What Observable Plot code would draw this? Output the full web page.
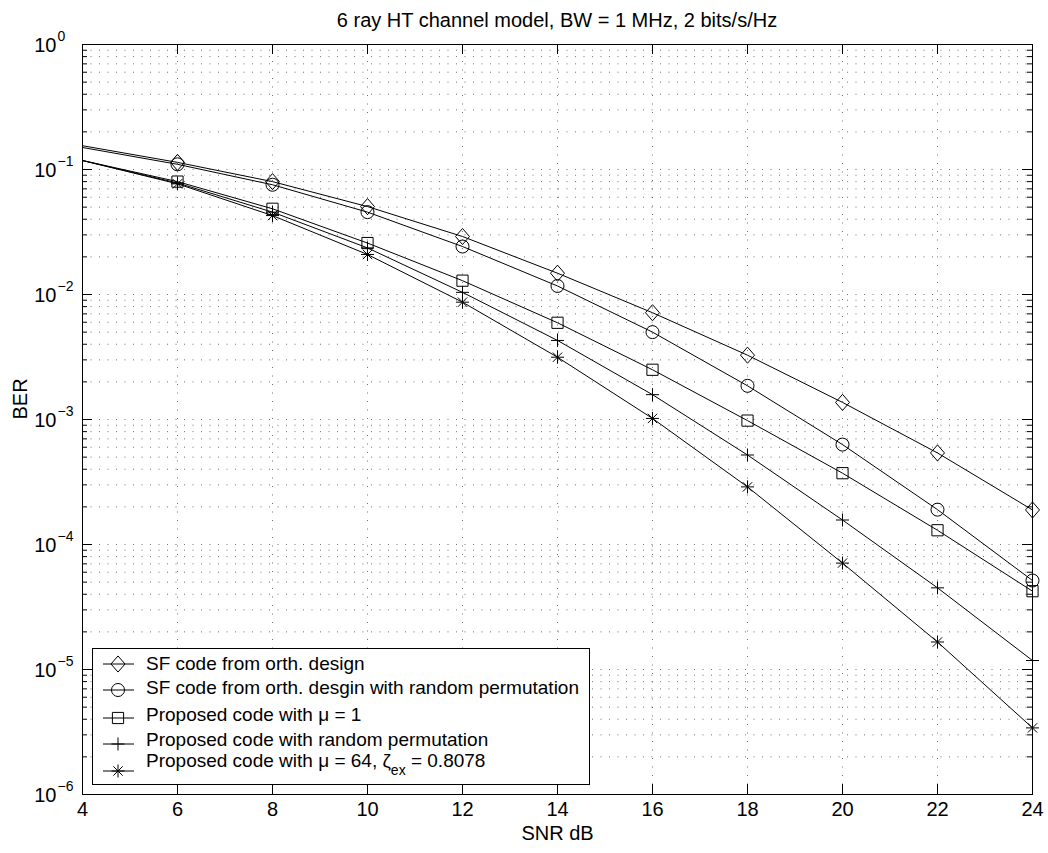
<!DOCTYPE html>
<html>
<head>
<meta charset="utf-8">
<script src="https://cdn.jsdelivr.net/npm/d3@7"></script>
<script src="https://cdn.jsdelivr.net/npm/@observablehq/plot@0.6"></script>
<style>
  html, body { margin: 0; padding: 0; background: #fff; }
  body { font-family: "Liberation Sans", Arial, Helvetica, sans-serif; }
  #wrap { position: relative; width: 1048px; height: 853px; }
  #title { position: absolute; left: 82px; width: 950px; top: 9px; text-align: center;
           font-size: 20px; line-height: 22px; color: #000; }
  #legend { position: absolute; left: 92px; top: 648px; width: 496px; height: 135px;
            border: 1px solid #000; background: #fff; }
</style>
</head>
<body>
<div id="wrap">
  <div id="chart"></div>
  <div id="title">6 ray HT channel model, BW = 1 MHz, 2 bits/s/Hz</div>
  <div id="legend"></div>
</div>
<script>
// ---- data ----
const snr = [4, 6, 8, 10, 12, 14, 16, 18, 20, 22, 24];
const berSFOrth   = [0.155, 0.114, 0.080, 0.0505, 0.0291, 0.0148, 0.00715, 0.00327, 0.00137, 0.00054, 0.000189];
const berSFPerm   = [0.150, 0.110, 0.0755, 0.0456, 0.0242, 0.0117, 0.0050, 0.00186, 0.00063, 0.00019, 0.0000515];
const berPropMu1  = [0.118, 0.080, 0.0485, 0.0258, 0.0129, 0.00594, 0.0025, 0.00098, 0.000372, 0.00013, 0.0000423];
const berPropPerm = [0.118, 0.078, 0.0456, 0.0236, 0.0104, 0.00429, 0.00158, 0.00052, 0.000157, 0.000045, 0.0000118];
const berPropMu64 = [0.118, 0.0768, 0.0428, 0.0209, 0.00868, 0.00315, 0.00102, 0.000289, 0.000071, 0.0000166, 0.00000341];
const seriesKeys = ["sforth", "sfperm", "mu1", "perm", "mu64"];
const seriesValues = [berSFOrth, berSFPerm, berPropMu1, berPropPerm, berPropMu64];
const seriesMarkers = ["diamond", "circle", "square", "plus", "asterisk"];
const xTicks = [4, 6, 8, 10, 12, 14, 16, 18, 20, 22, 24];
const yExponents = [0, -1, -2, -3, -4, -5, -6];

// ---- derived tables ----
const rows = [];
seriesKeys.forEach((k, i) => snr.forEach((s, j) => rows.push({series: k, marker: seriesMarkers[i], snr: s, ber: seriesValues[i][j]})));
const yMajor = yExponents.map(e => Math.pow(10, e));
const yMinor = [];
for (const e of yExponents.slice(1)) for (let m = 2; m <= 9; m++) yMinor.push(m * Math.pow(10, e));
const yGrid = yMinor.concat(yMajor.filter(v => v > 1e-6 && v < 1));

// ---- MATLAB-like marker shapes ----
function shape(name) {
  return {
    draw(ctx, size) {
      const r = Math.sqrt(size / Math.PI);
      if (name === "diamond") {
        const w = r, h = r * 1.15;
        ctx.moveTo(0, -h); ctx.lineTo(w, 0); ctx.lineTo(0, h); ctx.lineTo(-w, 0); ctx.closePath();
      } else if (name === "circle") {
        const c = r * 0.93;
        ctx.moveTo(c, 0); ctx.arc(0, 0, c, 0, 2 * Math.PI);
      } else if (name === "square") {
        const s = r * 0.8;
        ctx.moveTo(-s, -s); ctx.lineTo(s, -s); ctx.lineTo(s, s); ctx.lineTo(-s, s); ctx.closePath();
      } else if (name === "plus") {
        const p = r * 0.93;
        ctx.moveTo(-p, 0); ctx.lineTo(p, 0); ctx.moveTo(0, -p); ctx.lineTo(0, p);
      } else {
        const p = r * 0.93, q = p * 0.72;
        ctx.moveTo(-p, 0); ctx.lineTo(p, 0); ctx.moveTo(0, -p); ctx.lineTo(0, p);
        ctx.moveTo(-q, -q); ctx.lineTo(q, q); ctx.moveTo(-q, q); ctx.lineTo(q, -q);
      }
    }
  };
}

const W = 1048, H = 853, mL = 82, mR = 16, mT = 44, mB = 59;
const pw = W - mL - mR, ph = H - mT - mB;

const chart = Plot.plot({
  width: W, height: H,
  marginLeft: mL, marginRight: mR, marginTop: mT, marginBottom: mB,
  style: {fontFamily: '"Liberation Sans", Arial, Helvetica, sans-serif', background: "#fff", color: "#000"},
  x: {domain: [4, 24], axis: null},
  y: {type: "log", domain: [1e-6, 1], axis: null},
  marks: [
    // dotted grid
    Plot.ruleX(xTicks.slice(1, -1), {x: d => d, stroke: "#000", strokeOpacity: 0.55, strokeDasharray: "1,7.5"}),
    Plot.ruleY(yGrid, {y: d => d, stroke: "#000", strokeOpacity: 0.55, strokeDasharray: "1,7.5"}),
    // inward ticks
    Plot.ruleX(xTicks, {x: d => d, insetTop: ph - 10, stroke: "#000"}),
    Plot.ruleX(xTicks, {x: d => d, insetBottom: ph - 10, stroke: "#000"}),
    Plot.ruleY(yMajor, {y: d => d, insetRight: pw - 10, stroke: "#000"}),
    Plot.ruleY(yMajor, {y: d => d, insetLeft: pw - 10, stroke: "#000"}),
    Plot.ruleY(yMinor, {y: d => d, insetRight: pw - 5, stroke: "#000"}),
    Plot.ruleY(yMinor, {y: d => d, insetLeft: pw - 5, stroke: "#000"}),
    Plot.frame({stroke: "#000"}),
    // tick labels
    Plot.text(xTicks, {x: d => d, frameAnchor: "bottom", dy: 21, text: d => String(d), fontSize: 20, fill: "#000"}),
    Plot.text(yMajor, {y: d => d, frameAnchor: "left", dx: -26, dy: 1, textAnchor: "end", text: () => "10", fontSize: 20, fill: "#000"}),
    Plot.text(yExponents, {y: d => Math.pow(10, d), frameAnchor: "left", dx: -25, dy: -8, textAnchor: "start",
      text: d => String(d).replace("-", "\u2212"), fontSize: 14, fill: "#000"}),
    // axis labels
    Plot.text(["SNR dB"], {frameAnchor: "bottom", dy: 45, text: d => d, fontSize: 20, fill: "#000"}),
    Plot.text(["BER"], {frameAnchor: "left", dx: -62, rotate: -90, text: d => d, fontSize: 20, fill: "#000"}),
    // curves
    Plot.line(rows, {x: "snr", y: "ber", z: "series", stroke: "#000", strokeWidth: 1}),
    ...seriesKeys.map((k, i) => Plot.dot(rows.filter(d => d.series === k && d.snr > 4),
      {x: "snr", y: "ber", r: 7, symbol: shape(seriesMarkers[i]), stroke: "#000", fill: "none", strokeWidth: 1}))
  ]
});
document.getElementById("chart").appendChild(chart);

// ---- legend ----
const legendLabels = [
  "SF code from orth. design",
  "SF code from orth. desgin with random permutation",
  "Proposed code with \u03BC = 1",
  "Proposed code with random permutation",
  "Proposed code with \u03BC = 64, \u03B6"
];
const legendLineY = [15, 41, 69, 95, 122];
const legendTextY = [21, 45, 72, 97, 118];
const ns = "http://www.w3.org/2000/svg";
const lsvg = document.createElementNS(ns, "svg");
lsvg.setAttribute("width", 496); lsvg.setAttribute("height", 135);
lsvg.style.display = "block";
lsvg.setAttribute("font-family", '"Liberation Sans", Arial, Helvetica, sans-serif');
seriesMarkers.forEach((m, i) => {
  const ly = legendLineY[i];
  const line = document.createElementNS(ns, "line");
  line.setAttribute("x1", 10); line.setAttribute("x2", 41); line.setAttribute("y1", ly); line.setAttribute("y2", ly);
  line.setAttribute("stroke", "#000");
  lsvg.appendChild(line);
  const p = d3.path();
  shape(m).draw(p, 49 * Math.PI);
  const path = document.createElementNS(ns, "path");
  path.setAttribute("d", p.toString());
  path.setAttribute("transform", `translate(25,${ly})`);
  path.setAttribute("stroke", "#000"); path.setAttribute("fill", "none");
  lsvg.appendChild(path);
  const t = document.createElementNS(ns, "text");
  t.setAttribute("x", 53); t.setAttribute("y", legendTextY[i]);
  t.setAttribute("font-size", 19);
  t.textContent = legendLabels[i];
  if (i === 4) {
    const sub = document.createElementNS(ns, "tspan");
    sub.setAttribute("font-size", 14); sub.setAttribute("dy", 8);
    sub.textContent = "ex";
    t.appendChild(sub);
    const rest = document.createElementNS(ns, "tspan");
    rest.setAttribute("dy", -8);
    rest.textContent = " = 0.8078";
    t.appendChild(rest);
  }
  lsvg.appendChild(t);
});
document.getElementById("legend").appendChild(lsvg);
</script>
</body>
</html>
